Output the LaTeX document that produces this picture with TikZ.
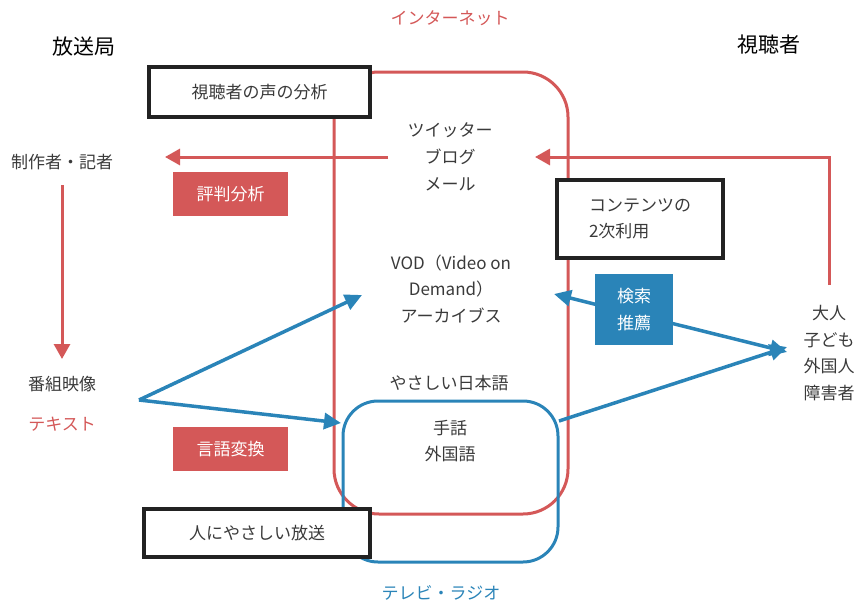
\documentclass[tikz,border=0pt]{standalone}
\usepackage{fontspec}
\setmainfont{Noto Sans CJK JP}
\usetikzlibrary{arrows.meta}
\definecolor{netred}{HTML}{D45858}
\definecolor{tvblue}{HTML}{2A84B8}
\definecolor{txtc}{HTML}{3A3A3A}
\definecolor{boxc}{HTML}{222222}
\begin{document}
\begin{tikzpicture}[x=1pt,y=-1pt,
  txt/.style={font=\fontsize{17}{26.7}\selectfont, text=txtc, align=center, inner sep=0pt},
  head/.style={font=\fontsize{21}{24}\selectfont, text=black, inner sep=0pt},
  framebox/.style={draw=boxc, line width=4pt, fill=white, font=\fontsize{17}{26}\selectfont, text=txtc, inner sep=0pt},
  redtag/.style={fill=netred, text=white, font=\fontsize{17}{26}\selectfont, inner sep=0pt, minimum width=115, minimum height=44},
  bluetag/.style={fill=tvblue, text=white, font=\fontsize{17}{26.7}\selectfont, align=center, inner sep=0pt, minimum width=78, minimum height=71},
  redline/.style={draw=netred, line width=3pt},
  blueline/.style={draw=tvblue, line width=3.5pt},
  redarrow/.style={redline, -{Triangle[length=15pt, width=16pt]}},
  bluearrow/.style={blueline, -{Triangle[length=17pt, width=16pt]}},
]
\useasboundingbox (0,0) rectangle (854,600);

% regions
\draw[redline, rounded corners=45] (334,72) rectangle (568,514);
\draw[blueline, line width=3pt, rounded corners=35] (343,401) rectangle (558,562);

% labels of regions
\node[txt, text=netred] (inet) at (450,18) {インターネット};
\node[txt, text=tvblue] (tvr) at (441,593) {テレビ・ラジオ};
\node[head] (station) at (84,47) {放送局};
\node[head] (viewer) at (769,45) {視聴者};

% texts
\node[txt] (prod) at (62,162) {制作者・記者};
\node[txt] (tw) at (450,157) {ツイッター\\ブログ\\メール};
\node[txt] (vod) at (451,289) {VOD（Video on\\Demand）\\アーカイブス};
\node[txt] (easy) at (449,383) {やさしい日本語};
\node[txt] (sign) at (450,441) {手話\\外国語};
\node[txt] (prog) at (62,384) {番組映像};
\node[txt, text=netred] (text) at (62,424) {テキスト};
\node[txt] (aud) at (829,353) {大人\\子ども\\外国人\\障害者};

% coordinates for connectors
\coordinate (a1s) at (388,157);
\coordinate (a1e) at (165,157);
\coordinate (a2s) at (829,285);
\coordinate (a2c) at (829,157);
\coordinate (a2e) at (535,157);
\coordinate (a3s) at (62,185);
\coordinate (a3e) at (62,359);
\coordinate (fork) at (139,400);
\coordinate (vodin) at (362,295);
\coordinate (signin) at (341,423);
\coordinate (vodout) at (554,294);
\coordinate (audin) at (787,352);
\coordinate (audin2) at (787,347);
\coordinate (signout) at (559,421);

% connectors
\draw[redarrow] (a1s) -- (a1e);
\draw[redarrow] (a2s) -- (a2c) -- (a2e);
\draw[redarrow] (a3s) -- (a3e);
\draw[bluearrow] (fork) -- (vodin);
\draw[bluearrow] (fork) -- (signin);
\draw[blueline, {Triangle[length=17pt, width=16pt]}-{Triangle[length=17pt, width=16pt]}] (vodout) -- (audin);
\draw[bluearrow] (signout) -- (audin2);

% boxes
\node[framebox, minimum width=221, minimum height=50] (voice) at (259.5,92) {視聴者の声の分析};
\node[framebox, minimum width=166, minimum height=78, align=left] (reuse) at (640,219) {コンテンツの\\2次利用};
\node[framebox, minimum width=226, minimum height=48] (kind) at (257,533) {人にやさしい放送};
\node[redtag] (rep) at (230.5,194) {評判分析};
\node[redtag] (lang) at (230.5,449) {言語変換};
\node[bluetag] (search) at (634,309.5) {検索\\推薦};
\end{tikzpicture}
\end{document}
